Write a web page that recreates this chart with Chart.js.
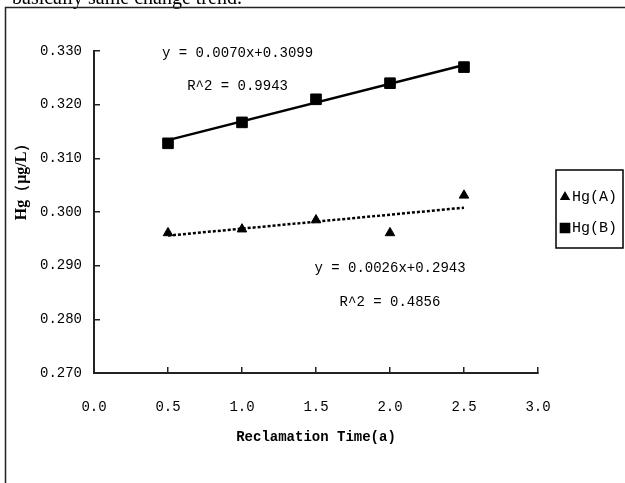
<!DOCTYPE html>
<html>
<head>
<meta charset="utf-8">
<script src="https://cdn.jsdelivr.net/npm/chart.js@4/dist/chart.umd.min.js"></script>
<style>
  body { margin: 0; background: #fff; }
  canvas { display: block; }
</style>
</head>
<body>
<canvas id="hgChart" width="625" height="483"></canvas>
<script>
// reclamation time (years) and measured Hg (µg/L)
const years = [0.5, 1.0, 1.5, 2.0, 2.5];
const hgA = [0.2961, 0.2968, 0.2985, 0.2961, 0.3031];
const hgB = [0.3128, 0.3167, 0.3210, 0.3240, 0.3270];

// linear trend lines, end points
const trendYears = [0.5, 2.5];
const trendA = [0.2956, 0.3008];
const trendB = [0.3134, 0.3274];

const seriesNames = ['Hg(A)', 'Hg(B)'];
const eqTexts = ['y = 0.0070x+0.3099', 'R^2 = 0.9943', 'y = 0.0026x+0.2943', 'R^2 = 0.4856'];
const eqX = [0.97, 0.97, 2.0, 2.0];
const eqY = [0.3296, 0.3234, 0.2896, 0.2832];

const monoFont = '"Liberation Mono", "DejaVu Sans Mono", monospace';
const ink = '#000';

const pts = (xs, ys) => xs.map((x, i) => ({ x: x, y: ys[i] }));

// frame, cropped caption above, y title
const pageDeco = {
  id: 'pageDeco',
  beforeDraw(chart) {
    const ctx = chart.ctx;
    ctx.save();
    ctx.fillStyle = ink;
    ctx.font = '20px "Liberation Serif", serif';
    ctx.textBaseline = 'alphabetic';
    ctx.fillText('basically same change trend.', 12, 4);
    ctx.strokeStyle = '#222';
    ctx.lineWidth = 1.5;
    ctx.beginPath();
    ctx.moveTo(625, 7.5);
    ctx.lineTo(5.5, 7.5);
    ctx.lineTo(5.5, 483);
    ctx.stroke();
    ctx.translate(22, 178);
    ctx.rotate(-Math.PI / 2);
    ctx.textAlign = 'center';
    ctx.textBaseline = 'middle';
    ctx.font = 'bold 16px "Liberation Serif", serif';
    ctx.fillText('Hg（μg/L）', 0, 0);
    ctx.restore();
  }
};

// regression equations next to the lines
const eqLabels = {
  id: 'eqLabels',
  afterDatasetsDraw(chart) {
    const ctx = chart.ctx;
    const xs = chart.scales.x, ys = chart.scales.y;
    ctx.save();
    ctx.fillStyle = ink;
    ctx.font = '14px ' + monoFont;
    ctx.textAlign = 'center';
    ctx.textBaseline = 'middle';
    eqTexts.forEach((t, i) => {
      ctx.fillText(t, xs.getPixelForValue(eqX[i]), ys.getPixelForValue(eqY[i]));
    });
    ctx.restore();
  }
};

// boxed legend outside the plot on the right
const boxLegend = {
  id: 'boxLegend',
  afterDraw(chart) {
    const ctx = chart.ctx;
    ctx.save();
    ctx.strokeStyle = ink;
    ctx.lineWidth = 1.5;
    ctx.strokeRect(556, 170, 67, 78);
    ctx.font = '15px ' + monoFont;
    ctx.textBaseline = 'middle';
    [0, 1].forEach(i => {
      const ds = chart.data.datasets[i];
      const y = 197 + i * 31;
      ctx.fillStyle = ink;
      ctx.strokeStyle = ink;
      Chart.helpers.drawPoint(ctx, { pointStyle: ds.pointStyle, radius: ds.pointRadius - 1, rotation: 0, borderWidth: 1 }, 565, y);
      ctx.fillStyle = ink;
      ctx.fillText(ds.label, 572, y);
    });
    ctx.restore();
  }
};

new Chart(document.getElementById('hgChart'), {
  type: 'scatter',
  data: {
    datasets: [
      {
        label: seriesNames[0],
        data: pts(years, hgA),
        pointStyle: 'triangle',
        pointRadius: 5.5,
        backgroundColor: ink,
        borderColor: ink,
        borderWidth: 1,
        order: 0
      },
      {
        label: seriesNames[1],
        data: pts(years, hgB),
        pointStyle: 'rect',
        pointRadius: 7.5,
        backgroundColor: ink,
        borderColor: ink,
        borderWidth: 1,
        order: 0
      },
      {
        label: 'trend A',
        type: 'line',
        data: pts(trendYears, trendA),
        borderColor: ink,
        borderWidth: 2.5,
        borderDash: [3, 2],
        pointRadius: 0,
        order: 1
      },
      {
        label: 'trend B',
        type: 'line',
        data: pts(trendYears, trendB),
        borderColor: ink,
        borderWidth: 2.5,
        pointRadius: 0,
        order: 1
      }
    ]
  },
  options: {
    responsive: false,
    animation: false,
    devicePixelRatio: 1,
    layout: { padding: { left: 5, right: 87, top: 51, bottom: 0 } },
    plugins: {
      legend: { display: false },
      tooltip: { enabled: false }
    },
    scales: {
      x: {
        type: 'linear',
        min: 0,
        max: 3,
        afterFit: (s) => { s.height = 110; },
        border: { display: true, color: '#222', width: 2 },
        grid: { drawOnChartArea: false, drawTicks: true, tickLength: -6, color: '#222', lineWidth: 1.5 },
        ticks: {
          stepSize: 0.5,
          padding: 32,
          color: ink,
          font: { family: monoFont, size: 14 },
          callback: (v) => v.toFixed(1)
        },
        title: {
          display: true,
          text: 'Reclamation Time(a)',
          color: ink,
          font: { family: monoFont, size: 14, weight: 'bold' },
          padding: { top: 0, bottom: 37 }
        }
      },
      y: {
        min: 0.27,
        max: 0.33,
        afterFit: (s) => { s.width = 89; },
        border: { display: true, color: '#222', width: 2 },
        grid: { drawOnChartArea: false, drawTicks: true, tickLength: -6, color: '#222', lineWidth: 1.5 },
        ticks: {
          stepSize: 0.01,
          padding: 18,
          color: ink,
          font: { family: monoFont, size: 14 },
          callback: (v) => v.toFixed(3)
        }
      }
    }
  },
  plugins: [pageDeco, eqLabels, boxLegend]
});
</script>
</body>
</html>
